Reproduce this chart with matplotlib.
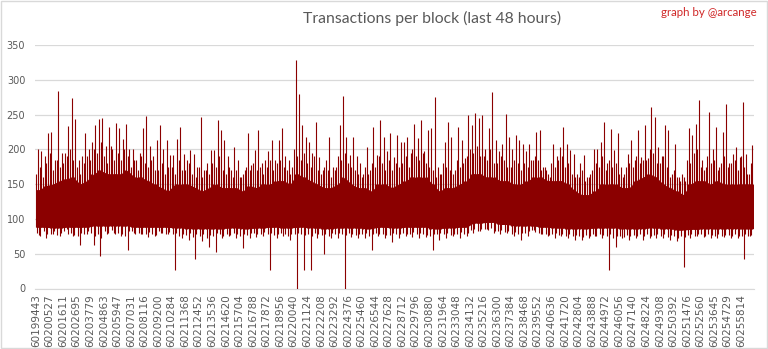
import matplotlib.pyplot as plt
from matplotlib.patches import Rectangle
import numpy as np

# block numbers shown on the x axis (one every ~1084 blocks)
tick_labels = [
    "60199443", "60200527", "60201611", "60202695", "60203779", "60204863",
    "60205947", "60207031", "60208116", "60209200", "60210284", "60211368",
    "60212452", "60213536", "60214620", "60215704", "60216788", "60217872",
    "60218956", "60220040", "60221124", "60222208", "60223292", "60224376",
    "60225460", "60226544", "60227628", "60228712", "60229796", "60230880",
    "60231964", "60233048", "60234132", "60235216", "60236300", "60237384",
    "60238468", "60239552", "60240636", "60241720", "60242804", "60243888",
    "60244972", "60246056", "60247140", "60248224", "60249308", "60250392",
    "60251476", "60252560", "60253645", "60254729", "60255814",
]
last_block = 60256800

# highest tx count in each quarter of a label interval
peaks = [
    200, 198, 190, 224,  225, 185, 284, 195,  195, 233, 274, 244,  185, 190, 224, 200,
    210, 235, 244, 245,  205, 232, 200, 238,  230, 215, 236, 200,  201, 185, 195, 230,
    248, 205, 190, 213,  235, 200, 213, 192,  192, 215, 232, 194,  185, 199, 194, 175,
    246, 170, 180, 199,  199, 242, 228, 213,  190, 170, 204, 185,  160, 170, 223, 177,
    199, 228, 180, 185,  197, 213, 185, 213,  230, 190, 185, 175,  328, 280, 235, 218,
    211, 195, 240, 189,  170, 185, 218, 175,  175, 235, 276, 218,  192, 218, 190, 180,
    165, 204, 170, 232,  192, 242, 218, 198,  223, 189, 220, 211,  211, 218, 195, 237,
    216, 242, 198, 228,  230, 275, 175, 165,  211, 240, 218, 170,  232, 213, 187, 249,
    235, 252, 245, 249,  200, 230, 283, 213,  198, 208, 251, 218,  200, 220, 213, 208,
    197, 208, 185, 225,  228, 175, 170, 160,  208, 190, 204, 232,  208, 199, 194, 165,
    180, 192, 160, 165,  201, 201, 211, 240,  180, 229, 199, 223,  175, 165, 194, 213,
    185, 228, 189, 235,  187, 261, 247, 204,  190, 235, 228, 165,  208, 160, 165, 155,
    230, 220, 237, 271,  185, 175, 254, 200,  232, 175, 225, 265,  180, 194, 204, 189,
    268, 194, 165, 206,
]

# second-tier spikes between the peaks, per quarter
shoulders = [
    165, 175, 160, 180,  195, 170, 185, 175,  180, 190, 200, 185,  175, 165, 180, 190,
    185, 200, 195, 210,  190, 180, 205, 185,  195, 185, 200, 190,  175, 185, 170, 190,
    180, 175, 185, 170,  170, 180, 165, 175,  175, 165, 185, 170,  170, 180, 165, 160,
    175, 160, 170, 165,  180, 175, 190, 170,  165, 175, 160, 170,  160, 165, 175, 170,
    180, 170, 175, 165,  175, 185, 170, 180,  185, 175, 170, 165,  200, 190, 185, 195,
    180, 175, 190, 170,  165, 175, 170, 160,  170, 190, 185, 195,  180, 175, 170, 165,
    160, 175, 165, 180,  175, 190, 180, 170,  185, 170, 180, 175,  180, 190, 175, 200,
    190, 185, 195, 180,  175, 170, 160, 165,  180, 175, 170, 165,  185, 175, 180, 190,
    200, 195, 205, 190,  190, 185, 200, 180,  180, 190, 185, 175,  175, 185, 180, 170,
    180, 175, 185, 190,  185, 170, 175, 165,  180, 175, 185, 190,  175, 180, 165, 160,
    160, 170, 155, 160,  170, 180, 175, 190,  170, 185, 175, 180,  165, 160, 175, 180,
    175, 190, 180, 185,  185, 200, 195, 180,  180, 190, 175, 160,  170, 160, 155, 160,
    185, 180, 195, 200,  175, 170, 190, 180,  185, 170, 180, 190,  175, 180, 185, 170,
    190, 175, 165, 180,
]

# lowest tx count in each half interval
dips = [
    77, 72, 78, 75, 85, 75, 62, 78, 62, 46, 78, 80, 75, 55, 80, 78, 74, 76, 80, 78,
    26, 72, 70, 43, 68, 60, 53, 72, 75, 73, 58, 72, 74, 75, 26, 72, 75, 70, 0, 26,
    26, 72, 50, 72, 72, 0, 74, 72, 72, 55, 75, 72, 67, 73, 75, 74, 72, 74, 55, 70,
    72, 75, 72, 75, 80, 82, 85, 80, 78, 80, 75, 70, 75, 84, 78, 75, 72, 75, 72, 70,
    70, 72, 75, 72, 27, 60, 72, 70, 72, 70, 72, 72, 72, 70, 68, 31, 72, 75, 74, 72,
    72, 74, 72, 73, 42, 75,
]

# smaller downward spikes, per quarter
low_shoulders = [
    80, 76, 82, 78,  79, 82, 77, 80,  83, 78, 80, 77,  76, 80, 78, 82,  80, 75, 78, 72,
    82, 80, 84, 79,  80, 78, 76, 82,  82, 79, 80, 78,  78, 81, 79, 77,  82, 80, 79, 81,
    78, 80, 76, 79,  77, 80, 74, 78,  75, 79, 72, 77,  76, 80, 78, 75,  79, 77, 80, 78,
    76, 79, 77, 80,  80, 78, 79, 81,  78, 80, 77, 79,  80, 78, 76, 79,  78, 80, 79, 77,
    79, 76, 80, 78,  77, 79, 76, 80,  78, 80, 79, 77,  80, 78, 77, 79,  78, 80, 76, 79,
    80, 78, 79, 77,  77, 80, 78, 79,  80, 79, 78, 81,  78, 80, 79, 77,  76, 79, 78, 80,
    78, 80, 77, 79,  79, 81, 78, 80,  84, 86, 83, 85,  86, 84, 87, 83,  82, 84, 81, 83,
    79, 81, 78, 80,  80, 82, 84, 81,  80, 78, 79, 77,  78, 80, 77, 79,  76, 78, 75, 77,
    76, 74, 77, 75,  78, 76, 79, 77,  75, 78, 72, 76,  76, 74, 77, 75,  77, 75, 78, 76,
    78, 76, 77, 79,  76, 78, 74, 77,  75, 73, 76, 74,  77, 79, 76, 78,  78, 76, 79, 77,
    76, 78, 75, 77,  77, 75, 78, 76,  75, 78, 76, 77,
]

# upper edge of the dense band, per half interval
core_top = [
    142, 148, 150, 155, 158, 160, 150, 155, 165, 170, 165, 165, 165, 170, 160, 160,
    155, 150, 145, 140, 150, 150, 150, 145, 140, 145, 150, 145, 145, 145, 140, 148,
    145, 150, 150, 155, 155, 150, 165, 160, 155, 150, 145, 145, 150, 160, 150, 145,
    145, 140, 150, 150, 145, 150, 155, 160, 160, 160, 150, 140, 145, 145, 150, 155,
    165, 165, 160, 160, 155, 155, 150, 150, 155, 160, 160, 155, 155, 155, 150, 140,
    135, 135, 140, 150, 150, 150, 145, 145, 155, 160, 165, 160, 150, 145, 140, 135,
    150, 155, 155, 150, 155, 150, 150, 150, 150, 150,
]

# lower edge of the dense band, per interval
core_bot = [
    88, 87, 88, 88, 90, 90, 90, 88, 88, 88, 87, 86, 86, 86, 87, 86, 87, 88,
    87, 88, 87, 86, 87, 87, 86, 88, 87, 88, 88, 86, 87, 88, 94, 95, 92, 90,
    90, 88, 87, 86, 86, 87, 87, 86, 86, 87, 86, 84, 85, 86, 86, 86, 86,
]

red = "#8B0000"
grey = "#595959"

edges = np.array([int(t) for t in tick_labels] + [last_block], dtype=float)
n = len(tick_labels)


def positions(k, off):
    out = []
    for i in range(n):
        step = (edges[i + 1] - edges[i]) / k
        out += [edges[i] + (j + off) * step for j in range(k)]
    return np.array(out)


bot2 = np.repeat(core_bot, 2)
bot4 = np.repeat(core_bot, 4)
top2 = np.array(core_top)
top4 = np.repeat(core_top, 2)

fig = plt.figure(figsize=(7.68, 3.49), dpi=100)
ax = fig.add_axes([35 / 768, 60.5 / 349, 718.5 / 768, 243.5 / 349])

x2 = positions(2, 0.5)
xs = np.concatenate([[edges[0]], x2, [edges[-1]]])
ax.fill_between(xs, np.concatenate([[bot2[0]], bot2, [bot2[-1]]]),
                np.concatenate([[top2[0]], top2, [top2[-1]]]),
                color=red, lw=0, zorder=3)
ax.vlines(positions(4, 0.05), bot4, shoulders, color=red, lw=0.8, zorder=3)
ax.vlines(positions(4, 0.55), bot4, peaks, color=red, lw=0.8, zorder=3)
ax.vlines(positions(4, 0.3), low_shoulders, top4, color=red, lw=0.8, zorder=3)
ax.vlines(x2, dips, top2, color=red, lw=0.8, zorder=3)

ax.set_xlim(edges[0] - 80, edges[-1])
ax.set_ylim(0, 350)
ax.set_yticks(range(0, 351, 50))
ax.set_xticks([int(t) for t in tick_labels])
ax.set_xticklabels(tick_labels, rotation=90)
ax.tick_params(axis="x", length=0, pad=4, labelsize=7.5, labelcolor=grey)
ax.tick_params(axis="y", length=0, pad=7, labelsize=7, labelcolor=grey)
ax.grid(axis="y", color="#D9D9D9", lw=0.9, zorder=0)
for s in ["top", "right", "left"]:
    ax.spines[s].set_visible(False)
ax.spines["bottom"].set_color("#D9D9D9")

fig.text(432 / 768, 1 - 18 / 349, "Transactions per block (last 48 hours)",
         ha="center", va="center", fontsize=11.3, family="Lato", color=grey)
fig.text(757 / 768, 1 - 13 / 349, "graph by @arcange", ha="right", va="center",
         fontsize=8.3, family="Lato", color="#D02828")
fig.patches.append(Rectangle((0.001, 0.002), 0.998, 0.996, transform=fig.transFigure,
                             fill=False, edgecolor="#D9D9D9", lw=1))

fig.savefig("out.png", dpi=100)
